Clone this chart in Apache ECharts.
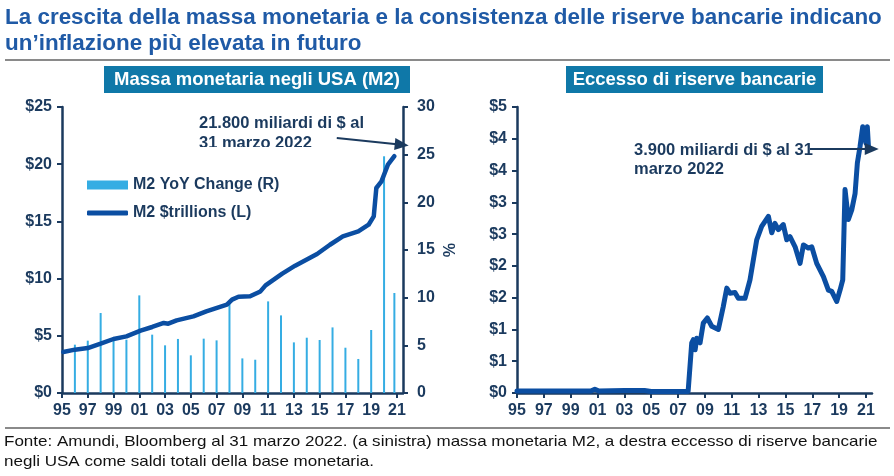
<!DOCTYPE html>
<html><head><meta charset="utf-8">
<script src="https://cdn.jsdelivr.net/npm/echarts@6/dist/echarts.min.js"></script>
<style>html,body{margin:0;padding:0;background:#fff}#c{width:894px;height:476px}</style>
</head><body><div id="c"></div>
<script>
// ---- data ----
const m2Years = [1995.1, 1996.0, 1997.0, 1998.0, 1999.0, 2000.0, 2001.1, 2002.0, 2002.9, 2003.25, 2003.9, 2005.2, 2006.2, 2007.8, 2008.2, 2008.7, 2009.6, 2010.4, 2010.8, 2012.1, 2013.1, 2014.8, 2015.8, 2016.8, 2018.0, 2018.8, 2019.2, 2019.4, 2019.8, 2020.3, 2020.8];
const m2Trillions = [3.58, 3.79, 3.93, 4.31, 4.72, 4.95, 5.45, 5.77, 6.12, 6.06, 6.35, 6.70, 7.13, 7.72, 8.16, 8.42, 8.45, 8.88, 9.41, 10.43, 11.13, 12.15, 12.96, 13.69, 14.13, 14.71, 15.44, 17.92, 18.5, 19.96, 20.7];
const yoyYears = [1996, 1997, 1998, 1999, 2000, 2001, 2002, 2003, 2004, 2005, 2006, 2007, 2008, 2009, 2010, 2011, 2012, 2013, 2014, 2015, 2016, 2017, 2018, 2019, 2020, 2020.8];
const yoyChange = [5.07, 5.49, 8.39, 5.88, 5.59, 10.24, 6.12, 5.0, 5.67, 3.95, 5.7, 5.52, 9.37, 3.63, 3.49, 9.61, 8.14, 5.31, 5.80, 5.56, 6.88, 4.75, 3.57, 6.61, 24.83, 10.49];
const resYears = [1995.0, 2000.5, 2000.8, 2001.1, 2003.0, 2004.5, 2005.0, 2007.75, 2008.02, 2008.14, 2008.27, 2008.39, 2008.64, 2008.88, 2009.18, 2009.51, 2010.0, 2010.37, 2010.63, 2010.87, 2011.24, 2011.49, 2011.99, 2012.36, 2012.86, 2013.23, 2013.73, 2013.98, 2014.22, 2014.47, 2014.84, 2015.1, 2015.34, 2015.72, 2016.09, 2016.34, 2016.71, 2016.96, 2017.33, 2017.83, 2018.2, 2018.45, 2018.82, 2019.07, 2019.27, 2019.44, 2019.69, 2019.94, 2020.19, 2020.36, 2020.56, 2020.76, 2021.0, 2021.1, 2021.2, 2021.3];
const resTrillions = [0.03, 0.03, 0.06, 0.03, 0.04, 0.04, 0.025, 0.025, 0.79, 0.84, 0.68, 0.86, 0.79, 1.10, 1.18, 1.05, 1.0, 1.36, 1.65, 1.57, 1.58, 1.49, 1.49, 1.78, 2.41, 2.62, 2.78, 2.52, 2.67, 2.57, 2.65, 2.41, 2.46, 2.30, 2.04, 2.33, 2.28, 2.30, 2.04, 1.83, 1.62, 1.60, 1.44, 1.62, 1.78, 3.20, 2.73, 2.88, 3.14, 3.62, 3.88, 4.19, 3.93, 4.19, 3.83, 3.85];
const yearTicks = [1995, 1997, 1999, 2001, 2003, 2005, 2007, 2009, 2011, 2013, 2015, 2017, 2019, 2021];
const leftTicksUSD = [0, 5, 10, 15, 20, 25];
const rightTicksPct = [0, 5, 10, 15, 20, 25, 30];
const titleLines = ["La crescita della massa monetaria e la consistenza delle riserve bancarie indicano", "un\u2019inflazione più elevata in futuro"];
const panelTitles = ["Massa monetaria negli USA (M2)", "Eccesso di riserve bancarie"];
const sourceLines = ["Fonte: Amundi, Bloomberg al 31 marzo 2022. (a sinistra) massa monetaria M2, a destra eccesso di riserve bancarie", "negli USA come saldi totali della base monetaria."];
const noteLeft = ["21.800 miliardi di $ al", "31 marzo 2022"];
const noteRight = ["3.900 miliardi di $ al 31", "marzo 2022"];

const NAVY = '#1b3a5e';
const LINE = '#0b4ea2';
const BAR = '#35ade3';
const BOX = '#0f78a8';
const TITLE = '#1f5aa6';
const SANS = '"Liberation Sans",Arial,sans-serif';

const pair = (xs, ys) => xs.map((x, i) => [x, ys[i]]);
const yearFmt = v => String(Math.round(v) % 100).padStart(2, '0');

const axisLine = {show: true, lineStyle: {color: NAVY, width: 2.5}};
const axisTick = {show: true, length: 5, lineStyle: {color: NAVY, width: 2}};
const lbl = {color: NAVY, fontFamily: SANS, fontWeight: 'bold', fontSize: 16};

const chart = echarts.init(document.getElementById('c'));
chart.setOption({
  animation: false,
  backgroundColor: '#fff',
  grid: [
    {left: 62, right: 491, top: 107, bottom: 83},
    {left: 517, right: 22, top: 107, bottom: 83}
  ],
  xAxis: [
    {gridIndex: 0, type: 'value', min: 1995, max: 2021.47, interval: 1, splitLine: {show: false},
     axisLine, axisTick: {...axisTick, customValues: yearTicks},
     axisLabel: {...lbl, margin: 10, formatter: yearFmt, customValues: yearTicks}},
    {gridIndex: 1, type: 'value', min: 1995, max: 2021.45, interval: 1, splitLine: {show: false},
     axisLine, axisTick: {...axisTick, customValues: yearTicks},
     axisLabel: {...lbl, margin: 10, formatter: yearFmt, customValues: yearTicks}}
  ],
  yAxis: [
    {gridIndex: 0, type: 'value', min: leftTicksUSD[0], max: leftTicksUSD[leftTicksUSD.length-1], interval: 5,
     splitLine: {show: false}, axisLine, axisTick, axisLabel: {...lbl, margin: 10, formatter: v => '$' + v}},
    {gridIndex: 0, type: 'value', position: 'right', min: rightTicksPct[0], max: rightTicksPct[rightTicksPct.length-1], interval: 5,
     splitLine: {show: false}, axisLine, axisTick, axisLabel: {...lbl, margin: 14},
     name: '%', nameLocation: 'middle', nameGap: 36, nameRotate: -90,
     nameTextStyle: {color: NAVY, fontFamily: SANS, fontWeight: 'bold', fontSize: 16}},
    {gridIndex: 1, type: 'value', min: 0, max: 4.5, interval: 0.5,
     splitLine: {show: false}, axisLine, axisTick, axisLabel: {...lbl, margin: 10, formatter: v => '$' + Math.round(v)}}
  ],
  legend: [
    {orient: 'vertical', left: 82, top: 172, itemWidth: 41, itemHeight: 9,
     textStyle: {color: NAVY, fontFamily: SANS, fontWeight: 'bold', fontSize: 16},
     data: [{name: 'M2 YoY Change (R)', icon: 'rect'}]},
    {orient: 'vertical', left: 82, top: 200, itemWidth: 41, itemHeight: 5,
     textStyle: {color: NAVY, fontFamily: SANS, fontWeight: 'bold', fontSize: 16},
     data: [{name: 'M2 $trillions (L)', icon: 'roundRect'}]}
  ],
  series: [
    {name: 'M2 YoY Change (R)', type: 'bar', xAxisIndex: 0, yAxisIndex: 1, barWidth: 2,
     itemStyle: {color: BAR}, data: pair(yoyYears, yoyChange)},
    {name: 'M2 $trillions (L)', type: 'line', xAxisIndex: 0, yAxisIndex: 0, showSymbol: false, symbol: 'none',
     lineStyle: {color: LINE, width: 4.5, cap: 'round', join: 'round'}, itemStyle: {color: LINE},
     data: pair(m2Years, m2Trillions),
     markLine: {silent: true, symbol: ['none', 'triangle'], symbolSize: [12, 14], label: {show: false},
       lineStyle: {color: NAVY, width: 2, type: 'solid'},
       data: [[{coord: [2016.33, 22.29]}, {coord: [2021.37, 21.7]}]]}},
    {name: 'Excess reserves', type: 'line', xAxisIndex: 1, yAxisIndex: 2, showSymbol: false, symbol: 'none',
     lineStyle: {color: LINE, width: 5, cap: 'round', join: 'round'},
     data: pair(resYears, resTrillions),
     markLine: {silent: true, symbol: ['none', 'triangle'], symbolSize: [12, 14], label: {show: false},
       lineStyle: {color: NAVY, width: 2, type: 'solid'},
       data: [[{coord: [2016.83, 3.84]}, {coord: [2021.43, 3.84]}]]}}
  ],
  graphic: [
    {type: 'text', x: 5, y: 5, scaleX: 1.02, style: {text: titleLines.join('\n'), fill: TITLE, font: 'bold 22px ' + SANS, lineHeight: 26}},
    {type: 'line', shape: {x1: 5, y1: 60, x2: 890, y2: 60}, style: {stroke: '#8a8a8a', lineWidth: 2}},
    {type: 'rect', shape: {x: 104, y: 66, width: 306, height: 27}, style: {fill: BOX}},
    {type: 'text', x: 257, y: 79.5, style: {text: panelTitles[0], fill: '#fff', font: 'bold 18.5px ' + SANS, align: 'center', verticalAlign: 'middle'}},
    {type: 'rect', shape: {x: 566, y: 66, width: 257, height: 27}, style: {fill: BOX}},
    {type: 'text', x: 694.5, y: 79.5, style: {text: panelTitles[1], fill: '#fff', font: 'bold 18.5px ' + SANS, align: 'center', verticalAlign: 'middle'}},
    {type: 'text', x: 199, y: 113, style: {text: noteLeft.join('\n'), fill: NAVY, font: 'bold 16.5px ' + SANS, lineHeight: 20}},
    {type: 'rect', shape: {x: 190, y: 147, width: 140, height: 9}, style: {fill: '#fff'}},
    {type: 'text', x: 634, y: 141, style: {text: noteRight.join('\n'), fill: NAVY, font: 'bold 16.5px ' + SANS, lineHeight: 19}},
    {type: 'line', shape: {x1: 5, y1: 428, x2: 890, y2: 428}, style: {stroke: '#8a8a8a', lineWidth: 2}},
    {type: 'text', x: 4, y: 432, scaleX: 1.135, style: {text: sourceLines.join('\n'), fill: '#111', font: '15px ' + SANS, lineHeight: 20}}
  ]
});
</script></body></html>
